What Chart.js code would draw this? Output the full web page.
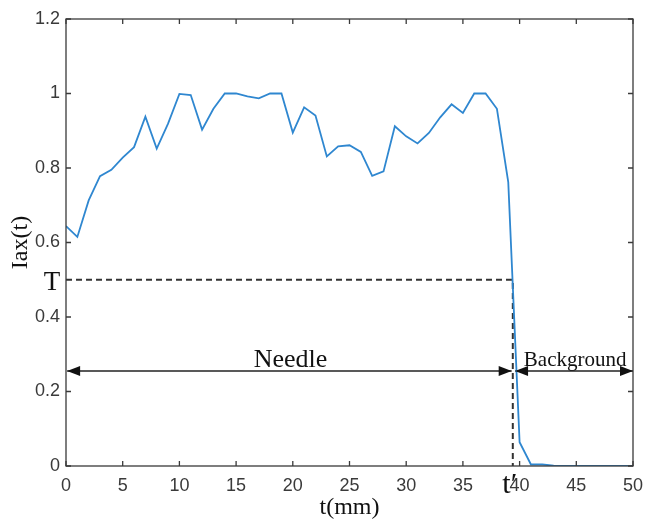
<!DOCTYPE html>
<html>
<head>
<meta charset="utf-8">
<script src="https://cdn.jsdelivr.net/npm/chart.js@4.4.1/dist/chart.umd.min.js"></script>
<style>
  html, body { margin: 0; padding: 0; background: #fff; }
  #wrap { width: 645px; height: 523px; }
</style>
</head>
<body>
<div id="wrap"><canvas id="c" width="645" height="523"></canvas></div>
<script>
// ----- data -----
const T_MM = [0,1,2,3,4,5,6,7,8,9,10,11,12,13,14,15,16,17,18,19,20,21,22,23,24,25,
  26,27,28,29,30,31,32,33,34,35,36,37,38,39,40,41,42,43,44,45,46,47,48,49,50];
const IAX = [0.644,0.615,0.713,0.778,0.795,0.828,0.856,0.938,0.852,0.919,
  0.999,0.996,0.903,0.959,1.0,1.0,0.992,0.987,1.0,1.0,
  0.895,0.963,0.941,0.831,0.858,0.861,0.843,0.779,0.791,0.912,
  0.885,0.866,0.894,0.936,0.971,0.948,1.0,1.0,0.959,0.762,
  0.064,0.004,0.004,0.001,0,0,0,0,0,0,0];
const X_TICKS = ['0','5','10','15','20','25','30','35','40','45','50'];
const Y_TICKS = ['0','0.2','0.4','0.6','0.8','1','1.2'];

// threshold T and crossing point t'
const T_LEVEL = 0.5;
const T_PRIME = 39.4;
// region arrows: [from, to] in mm, at height ARROW_Y
const ARROW_Y = 0.255;
const NEEDLE_SPAN = [0.1, 39.3];
const BACKGROUND_SPAN = [39.6, 50];

const LINE_BLUE = '#2f87d0';
const INK = '#222';

// inward ticks + box frame + arrowheads + text labels
const decor = {
  id: 'decor',
  afterDatasetsDraw(chart) {
    const { ctx, chartArea: a, scales: { x, y } } = chart;
    ctx.save();
    // frame
    ctx.strokeStyle = '#3a3a3a';
    ctx.lineWidth = 1.3;
    ctx.strokeRect(a.left, a.top, a.right - a.left, a.bottom - a.top);
    // inward ticks on all four sides
    ctx.beginPath();
    x.ticks.forEach(t => {
      const px = x.getPixelForValue(t.value);
      ctx.moveTo(px, a.bottom); ctx.lineTo(px, a.bottom - 5);
      ctx.moveTo(px, a.top); ctx.lineTo(px, a.top + 5);
    });
    y.ticks.forEach(t => {
      const py = y.getPixelForValue(t.value);
      ctx.moveTo(a.left, py); ctx.lineTo(a.left + 5, py);
      ctx.moveTo(a.right, py); ctx.lineTo(a.right - 5, py);
    });
    ctx.stroke();

    // arrowheads
    const ay = y.getPixelForValue(ARROW_Y);
    const head = (tipX, dir) => {
      ctx.beginPath();
      ctx.moveTo(tipX, ay);
      ctx.lineTo(tipX - dir * 13, ay - 5);
      ctx.lineTo(tipX - dir * 13, ay + 5);
      ctx.closePath();
      ctx.fill();
    };
    ctx.fillStyle = '#111';
    head(x.getPixelForValue(NEEDLE_SPAN[0]), -1);
    head(x.getPixelForValue(NEEDLE_SPAN[1]), 1);
    head(x.getPixelForValue(BACKGROUND_SPAN[0]), -1);
    head(x.getPixelForValue(BACKGROUND_SPAN[1]), 1);

    // labels
    ctx.fillStyle = '#111';
    ctx.textBaseline = 'alphabetic';
    ctx.textAlign = 'center';
    ctx.font = '26px "Liberation Serif", "Times New Roman", serif';
    ctx.fillText('Needle', x.getPixelForValue(19.8), ay - 4);
    ctx.font = '21px "Liberation Serif", "Times New Roman", serif';
    ctx.fillText('Background', x.getPixelForValue(44.9), ay - 5);
    ctx.font = '27px "Liberation Serif", "Times New Roman", serif';
    ctx.fillText('T', a.left - 14, y.getPixelForValue(T_LEVEL) + 10);
    ctx.font = '30px "Liberation Serif", "Times New Roman", serif';
    ctx.fillText('t\u2032', x.getPixelForValue(T_PRIME) - 3, a.bottom + 27);
    ctx.restore();
  }
};

new Chart(document.getElementById('c'), {
  type: 'line',
  data: {
    datasets: [
      {
        label: 'Iax(t)',
        data: T_MM.map((t, i) => ({ x: t, y: IAX[i] })),
        borderColor: LINE_BLUE, borderWidth: 1.8, pointRadius: 0, tension: 0
      },
      {
        label: 'T',
        data: [{ x: 0, y: T_LEVEL }, { x: T_PRIME, y: T_LEVEL }, { x: T_PRIME, y: 0 }],
        borderColor: '#333', borderWidth: 2, borderDash: [6, 4], pointRadius: 0, tension: 0
      },
      {
        label: 'Needle',
        data: NEEDLE_SPAN.map(v => ({ x: v, y: ARROW_Y })),
        borderColor: INK, borderWidth: 1.5, pointRadius: 0
      },
      {
        label: 'Background',
        data: BACKGROUND_SPAN.map(v => ({ x: v, y: ARROW_Y })),
        borderColor: INK, borderWidth: 1.5, pointRadius: 0
      }
    ]
  },
  options: {
    responsive: false,
    animation: false,
    layout: { padding: { top: 19, right: 12, left: 0, bottom: 0 } },
    plugins: { legend: { display: false }, tooltip: { enabled: false } },
    scales: {
      x: {
        type: 'linear', min: 0, max: 50,
        afterFit: s => { s.height = 57; s.paddingLeft = 0; s.paddingRight = 0; },
        afterBuildTicks: s => { s.ticks = X_TICKS.map(v => ({ value: +v })); },
        grid: { display: false, drawTicks: false },
        border: { display: false },
        ticks: {
          padding: 9, color: '#3a3a3a',
          font: { family: '"Liberation Sans", Arial, sans-serif', size: 18 },
          callback: (v, i) => X_TICKS[i]
        },
        title: {
          display: true, text: 't(mm)', color: '#111', padding: { top: 0, bottom: 1 },
          font: { family: '"Liberation Serif", "Times New Roman", serif', size: 24 }
        }
      },
      y: {
        type: 'linear', min: 0, max: 1.2,
        afterFit: s => { s.width = 66; s.paddingTop = 0; s.paddingBottom = 0; },
        afterBuildTicks: s => { s.ticks = Y_TICKS.map(v => ({ value: +v })); },
        grid: { display: false, drawTicks: false },
        border: { display: false },
        ticks: {
          padding: 6, color: '#3a3a3a',
          font: { family: '"Liberation Sans", Arial, sans-serif', size: 18 },
          callback: (v, i) => Y_TICKS[i]
        },
        title: {
          display: true, text: 'Iax(t)', color: '#111', padding: { top: 6, bottom: 0 },
          font: { family: '"Liberation Serif", "Times New Roman", serif', size: 24 }
        }
      }
    }
  },
  plugins: [decor]
});
</script>
</body>
</html>
